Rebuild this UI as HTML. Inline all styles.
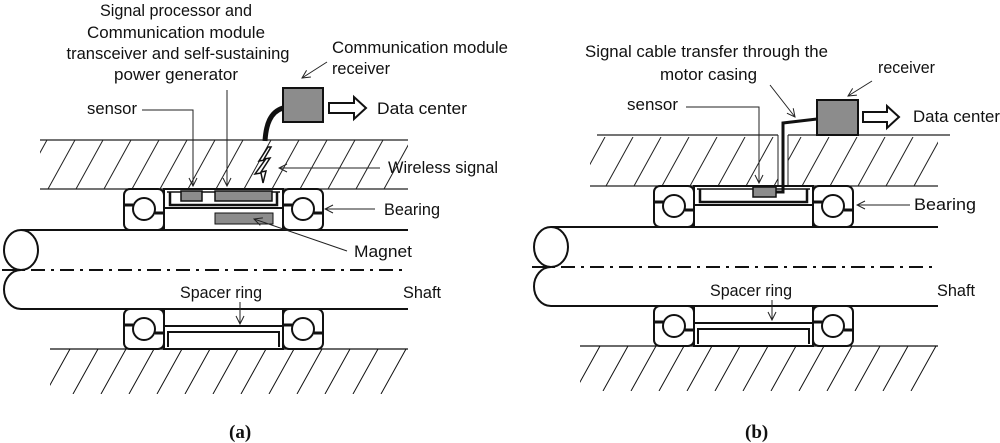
<!DOCTYPE html>
<html><head><meta charset="utf-8"><style>
html,body{margin:0;padding:0;background:#fff}
svg{display:block}
text{font-family:"Liberation Sans",sans-serif;font-size:17px;fill:#111}
.b{font-family:"Liberation Serif",serif;font-weight:bold;font-size:19px}
</style></head><body>
<svg width="1000" height="443" viewBox="0 0 1000 443" xmlns="http://www.w3.org/2000/svg">
<defs>
<marker id="ar" markerWidth="10" markerHeight="10" refX="9" refY="5" orient="auto" markerUnits="userSpaceOnUse">
<path d="M1,1 L9,5 L1,9" fill="none" stroke="#222" stroke-width="1"/>
</marker>
<clipPath id="ctop"><rect x="40" y="140" width="368" height="49"/></clipPath>
<clipPath id="cbot"><rect x="50" y="349" width="358" height="45"/></clipPath>
<g id="hatchT" stroke="#222" stroke-width="1" clip-path="url(#ctop)">
<path d="M20,189 l27,-49 M48,189 l27,-49 M76,189 l27,-49 M104,189 l27,-49 M132,189 l27,-49 M160,189 l27,-49 M188,189 l27,-49 M216,189 l27,-49 M244,189 l27,-49 M272,189 l27,-49 M300,189 l27,-49 M328,189 l27,-49 M356,189 l27,-49 M384,189 l27,-49 M412,189 l27,-49"/>
</g>
<g id="geo" fill="none" stroke="#111">
<line x1="50" y1="349" x2="408" y2="349" stroke-width="1.2"/>
<g stroke-width="1" clip-path="url(#cbot)">
<path d="M45,394 l25,-45 M73,394 l25,-45 M101,394 l25,-45 M129,394 l25,-45 M157,394 l25,-45 M185,394 l25,-45 M213,394 l25,-45 M241,394 l25,-45 M269,394 l25,-45 M297,394 l25,-45 M325,394 l25,-45 M353,394 l25,-45 M381,394 l25,-45 M409,394 l25,-45"/>
</g>
<line x1="21" y1="230" x2="408" y2="230" stroke-width="2"/>
<line x1="21" y1="309" x2="408" y2="309" stroke-width="2"/>
<ellipse cx="21" cy="250" rx="17" ry="20" stroke-width="2" fill="#fff"/>
<path d="M21,270 A17,19.5 0 0 0 21,309" stroke-width="2"/>
<line x1="2" y1="270" x2="408" y2="270" stroke-width="2" stroke-dasharray="14 6 3 6"/>
<rect x="164" y="189" width="119" height="41" fill="#fff" stroke-width="2"/>
<line x1="164" y1="208" x2="283" y2="208" stroke-width="2"/>
<line x1="167" y1="192" x2="280" y2="192" stroke-width="1.5"/>
<path d="M170,192 V205 H277 V192" stroke-width="2.5"/>
<rect x="124" y="189" width="40" height="41" rx="6" fill="#fff" stroke-width="2"/>
<rect x="283" y="189" width="40" height="41" rx="6" fill="#fff" stroke-width="2"/>
<circle cx="144" cy="209" r="11" fill="#fff" stroke-width="2"/>
<circle cx="303" cy="209" r="11" fill="#fff" stroke-width="2"/>
<path d="M124,205 H133 M155,213 H164 M283,205 H292 M314,213 H323" stroke-width="3"/>
<rect x="164" y="309" width="119" height="40" fill="#fff" stroke-width="2"/>
<line x1="164" y1="326" x2="283" y2="326" stroke-width="2"/>
<path d="M168,347 V332 H279 V347" stroke-width="2"/>
<rect x="124" y="309" width="40" height="40" rx="6" fill="#fff" stroke-width="2"/>
<rect x="283" y="309" width="40" height="40" rx="6" fill="#fff" stroke-width="2"/>
<circle cx="144" cy="329" r="11" fill="#fff" stroke-width="2"/>
<circle cx="303" cy="329" r="11" fill="#fff" stroke-width="2"/>
<path d="M124,325 H133 M155,333 H164 M283,325 H292 M314,333 H323" stroke-width="3"/>
</g>
</defs>

<!-- Panel (a) -->
<line x1="40" y1="140" x2="408" y2="140" stroke="#222" stroke-width="1.2"/>
<line x1="40" y1="189" x2="408" y2="189" stroke="#222" stroke-width="1.2"/>
<use href="#hatchT"/>
<use href="#geo"/>
<rect x="181" y="191" width="21" height="10" fill="#8c8c8c" stroke="#111" stroke-width="1.5"/>
<rect x="215" y="191" width="57" height="10" fill="#8c8c8c" stroke="#111" stroke-width="1.5"/>
<rect x="215" y="213" width="58" height="11" fill="#8c8c8c" stroke="#111" stroke-width="1"/>
<path d="M283,108 C270,112 266,125 265,141" fill="none" stroke="#111" stroke-width="5"/>
<rect x="283" y="88" width="40" height="34" fill="#8c8c8c" stroke="#111" stroke-width="2"/>
<path d="M329,103 H354 V97 L366,108 L354,119 V113 H329 Z" fill="#fff" stroke="#111" stroke-width="2"/>
<polygon points="268,147 259,161 265,160 255,174 261,173 263,183 266,171 261,172 270,158 264,159 271,147" fill="#fff" stroke="#111" stroke-width="1.5"/>
<g lengthAdjust="spacingAndGlyphs">
<text x="176" y="16" text-anchor="middle" textLength="152" lengthAdjust="spacingAndGlyphs">Signal processor and</text>
<text x="176" y="38" text-anchor="middle" textLength="178" lengthAdjust="spacingAndGlyphs">Communication module</text>
<text x="178" y="59" text-anchor="middle" textLength="223" lengthAdjust="spacingAndGlyphs">transceiver and self-sustaining</text>
<text x="176" y="80" text-anchor="middle" textLength="124" lengthAdjust="spacingAndGlyphs">power generator</text>
<text x="332" y="53" textLength="176" lengthAdjust="spacingAndGlyphs">Communication module</text>
<text x="332" y="74" textLength="58" lengthAdjust="spacingAndGlyphs">receiver</text>
<text x="377" y="114" textLength="90" lengthAdjust="spacingAndGlyphs">Data center</text>
<text x="87" y="114" textLength="50" lengthAdjust="spacingAndGlyphs">sensor</text>
<text x="388" y="173" textLength="110" lengthAdjust="spacingAndGlyphs">Wireless signal</text>
<text x="384" y="215" textLength="56" lengthAdjust="spacingAndGlyphs">Bearing</text>
<text x="354" y="257" textLength="58" lengthAdjust="spacingAndGlyphs">Magnet</text>
<text x="403" y="298" textLength="38" lengthAdjust="spacingAndGlyphs">Shaft</text>
<text x="180" y="298" textLength="82" lengthAdjust="spacingAndGlyphs">Spacer ring</text>
</g>
<g fill="none" stroke="#222" stroke-width="1">
<line x1="327" y1="62" x2="302" y2="78" marker-end="url(#ar)"/>
<polyline points="142,110 193,110 193,186" marker-end="url(#ar)"/>
<line x1="227" y1="90" x2="227" y2="186" marker-end="url(#ar)"/>
<line x1="380" y1="168" x2="279" y2="168" marker-end="url(#ar)"/>
<line x1="375" y1="209" x2="325" y2="209" marker-end="url(#ar)"/>
<line x1="347" y1="251" x2="254" y2="219" marker-end="url(#ar)"/>
<line x1="240" y1="302" x2="240" y2="324" marker-end="url(#ar)"/>
</g>
<text class="b" x="229" y="438">(a)</text>

<!-- Panel (b) -->
<g transform="translate(530,-3)">
<line x1="67" y1="138" x2="248" y2="138" stroke="#222" stroke-width="1.2"/>
<line x1="258" y1="138" x2="420" y2="138" stroke="#222" stroke-width="1.2"/>
<line x1="50" y1="189" x2="408" y2="189" stroke="#222" stroke-width="1.2"/>
<use href="#hatchT"/>
<rect x="30" y="137" width="30" height="53" fill="#fff"/>
<rect x="248" y="137" width="10" height="52" fill="#fff"/>
<line x1="248" y1="138" x2="248" y2="189" stroke="#222" stroke-width="1"/>
<line x1="258" y1="138" x2="258" y2="189" stroke="#222" stroke-width="1"/>
<use href="#geo"/>
</g>
<rect x="753" y="187" width="23" height="10" fill="#8c8c8c" stroke="#111" stroke-width="1.5"/>
<polyline points="776,192 783,192 783,123 817,119" fill="none" stroke="#111" stroke-width="3"/>
<rect x="817" y="100" width="41" height="35" fill="#8c8c8c" stroke="#111" stroke-width="2"/>
<path d="M863,112 H887 V106 L899,117 L887,128 V122 H863 Z" fill="#fff" stroke="#111" stroke-width="2"/>
<text x="585" y="57" textLength="243" lengthAdjust="spacingAndGlyphs">Signal cable transfer through the</text>
<text x="660" y="80" textLength="97" lengthAdjust="spacingAndGlyphs">motor casing</text>
<text x="878" y="73" textLength="57" lengthAdjust="spacingAndGlyphs">receiver</text>
<text x="913" y="122" textLength="87" lengthAdjust="spacingAndGlyphs">Data center</text>
<text x="627" y="110" textLength="51" lengthAdjust="spacingAndGlyphs">sensor</text>
<text x="914" y="210" textLength="62" lengthAdjust="spacingAndGlyphs">Bearing</text>
<text x="937" y="296" textLength="38" lengthAdjust="spacingAndGlyphs">Shaft</text>
<text x="710" y="296" textLength="82" lengthAdjust="spacingAndGlyphs">Spacer ring</text>
<g fill="none" stroke="#222" stroke-width="1">
<line x1="872" y1="81" x2="848" y2="96" marker-end="url(#ar)"/>
<line x1="770" y1="85" x2="795" y2="117" marker-end="url(#ar)"/>
<polyline points="686,107 759,107 759,183" marker-end="url(#ar)"/>
<line x1="910" y1="205" x2="857" y2="205" marker-end="url(#ar)"/>
<line x1="772" y1="300" x2="772" y2="320" marker-end="url(#ar)"/>
</g>
<text class="b" x="745" y="438">(b)</text>
</svg>
</body></html>
